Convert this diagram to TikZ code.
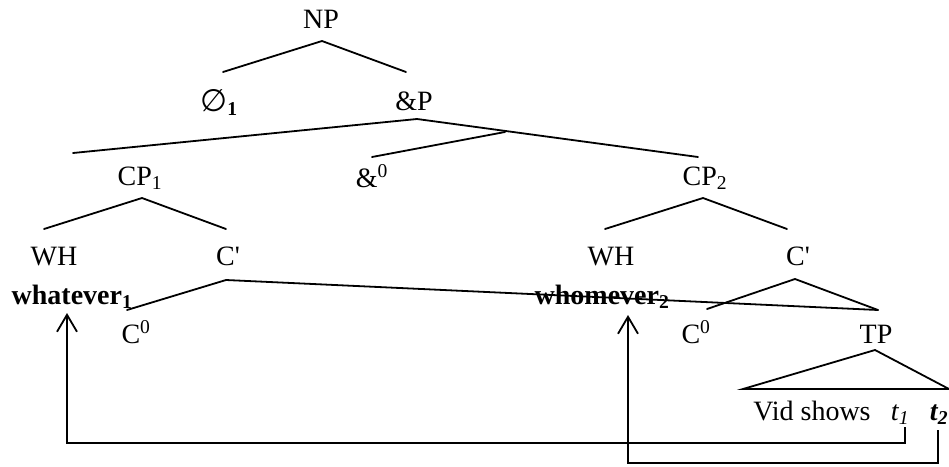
\documentclass[tikz,border=0pt]{standalone}
\usepackage{fontspec}
\setmainfont{Liberation Serif}
\newfontfamily\symfamily{DejaVu Sans}
\usetikzlibrary{arrows.meta}
\begin{document}
\begin{tikzpicture}[x=1pt,y=-1pt,
  lbl/.style={inner sep=0pt,anchor=base,font=\fontsize{28}{33}\selectfont},
  branch/.style={line width=1.8pt,line cap=round},
  move/.style={line width=1.8pt,-{Straight Barb[length=17pt,width=20pt,line width=1.8pt]}}]
\useasboundingbox (0,0) rectangle (949,466);

% labels
\node[lbl] (np)   at (321,28)  {NP};
\node[lbl] (null) at (219,111) {{\symfamily\fontsize{31}{36}\selectfont ∅}\textbf{\textsubscript{1}}};
\node[lbl] (andp) at (414,110) {\&P};
\node[lbl] (cp1)  at (140,185) {CP\textsubscript{1}};
\node[lbl] (amp0) at (372,187) {\&\textsuperscript{0}};
\node[lbl] (cp2)  at (705,185) {CP\textsubscript{2}};
\node[lbl] (wh1)  at (54,265)  {WH};
\node[lbl] (cb1)  at (228,265) {C\textquotesingle};
\node[lbl] (wh2)  at (611,265) {WH};
\node[lbl] (cb2)  at (798,265) {C\textquotesingle};
\node[lbl] (what) at (72,304)  {\textbf{whatever\textsubscript{1}}};
\node[lbl] (whom) at (602,304) {\textbf{whomever\textsubscript{2}}};
\node[lbl] (c01)  at (136,343) {C\textsuperscript{0}};
\node[lbl] (c02)  at (696,343) {C\textsuperscript{0}};
\node[lbl] (tp)   at (876,343) {TP};
\node[lbl] (vid)  at (812,420) {Vid shows};
\node[lbl] (t1)   at (900,420) {\textit{t\textsubscript{1}}};
\node[lbl] (t2)   at (939,420) {\textbf{\textit{t\textsubscript{2}}}};

% branch points
\coordinate (np-a)   at (322,41);
\coordinate (null-t) at (223,72);
\coordinate (andp-t) at (406,72);
\coordinate (andp-a) at (417,119);
\coordinate (cp1-t)  at (73,153);
\coordinate (cp2-t)  at (698,157);
\coordinate (mid)    at (505,132);
\coordinate (amp-t)  at (372,157);
\coordinate (cp1-a)  at (142,198);
\coordinate (wh1-t)  at (44,229);
\coordinate (cb1-t)  at (226,229);
\coordinate (cp2-a)  at (703,198);
\coordinate (wh2-t)  at (605,229);
\coordinate (cb2-t)  at (787,229);
\coordinate (cb1-a)  at (226,280);
\coordinate (c01-t)  at (127,310);
\coordinate (tp-t)   at (878,310);
\coordinate (cb2-a)  at (795,279);
\coordinate (c02-t)  at (707,309);
\coordinate (tp-a)   at (875,350);
\coordinate (tri-l)  at (743,389);
\coordinate (tri-r)  at (949,389);

% tree
\draw[branch] (null-t) -- (np-a) -- (andp-t);
\draw[branch] (cp1-t) -- (andp-a) -- (cp2-t);
\draw[branch] (amp-t) -- (mid);
\draw[branch] (wh1-t) -- (cp1-a) -- (cb1-t);
\draw[branch] (wh2-t) -- (cp2-a) -- (cb2-t);
\draw[branch] (c01-t) -- (cb1-a) -- (tp-t);
\draw[branch] (c02-t) -- (cb2-a) -- (tp-t);
\draw[branch] (tri-l) -- (tp-a) -- (tri-r) -- cycle;

% movement arrows
\coordinate (t1-f)   at (905,427);
\coordinate (t2-f)   at (938,430);
\coordinate (what-h) at (67,313);
\coordinate (whom-h) at (628,315);
\draw[move] (t1-f) -- ++(0,16) -| (what-h);
\draw[move] (t2-f) -- ++(0,33) -| (whom-h);
\end{tikzpicture}
\end{document}
